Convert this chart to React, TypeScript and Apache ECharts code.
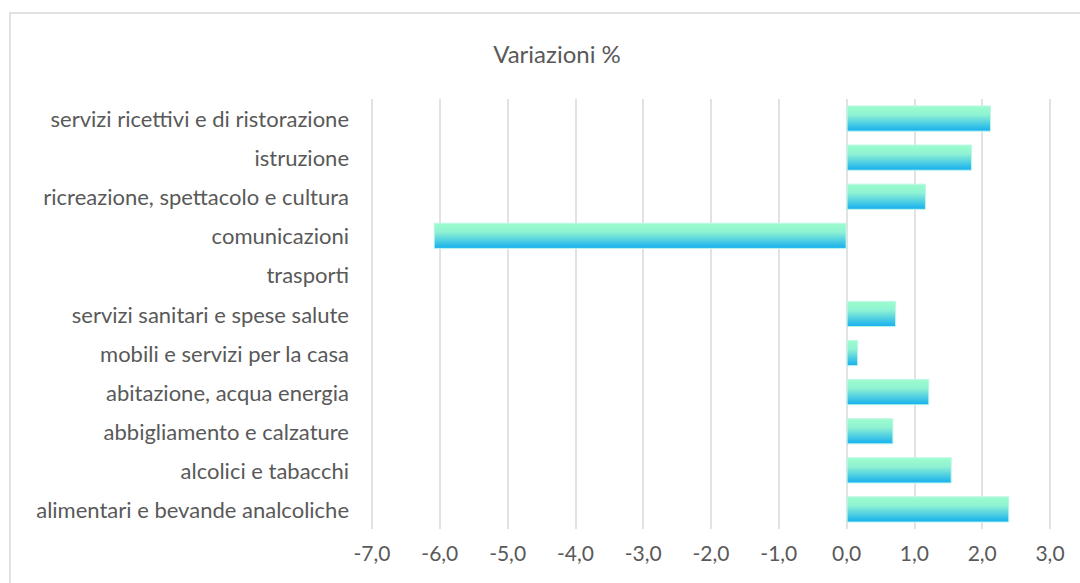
import React, { useEffect, useRef } from "react";
import * as echarts from "echarts";

const categories = [
  "alimentari e bevande analcoliche",
  "alcolici e tabacchi",
  "abbigliamento e calzature",
  "abitazione, acqua energia",
  "mobili e servizi per la casa",
  "servizi sanitari e spese salute",
  "trasporti",
  "comunicazioni",
  "ricreazione, spettacolo e cultura",
  "istruzione",
  "servizi ricettivi e di ristorazione",
];

const values: (number | null)[] = [2.4, 1.55, 0.69, 1.22, 0.17, 0.73, null, -6.09, 1.17, 1.85, 2.13];

const title = "Variazioni %";
const xMin = -7;
const xMax = 3;
const xStep = 1;

export default function App() {
  const ref = useRef<HTMLDivElement>(null);
  useEffect(() => {
    if (!ref.current) return;
    const chart = echarts.init(ref.current, null, { renderer: "svg" });
    const font = "Lato, 'Open Sans', sans-serif";
    chart.setOption({
      animation: false,
      backgroundColor: "#ffffff",
      title: {
        text: title,
        left: 552,
        top: 36,
        textAlign: "center",
        textStyle: { color: "#595959", fontSize: 24, fontWeight: "normal", fontFamily: font },
      },
      graphic: [
        {
          type: "rect",
          shape: { x: 10, y: 13, width: 1200, height: 700 },
          style: { fill: "none", stroke: "#d9d9d9", lineWidth: 1.5 },
          silent: true,
        },
      ],
      grid: { left: 372, right: 30, top: 99, height: 430, containLabel: false },
      xAxis: {
        type: "value",
        min: xMin,
        max: xMax,
        interval: xStep,
        axisLine: { show: false },
        axisTick: { show: false },
        splitLine: { show: true, lineStyle: { color: "#d9d9d9", width: 1.5 } },
        axisLabel: {
          color: "#595959",
          fontSize: 21,
          fontFamily: font,
          margin: 13,
          formatter: (v: number) => v.toFixed(1).replace(".", ","),
        },
      },
      yAxis: {
        type: "category",
        data: categories,
        axisLine: { show: false },
        axisTick: { show: false },
        axisLabel: { color: "#595959", fontSize: 22, fontFamily: font, margin: 23 },
      },
      series: [
        {
          type: "bar",
          data: values,
          barCategoryGap: "33%",
          itemStyle: {
            color: new echarts.graphic.LinearGradient(0, 0, 0, 1, [
              { offset: 0, color: "#9dfdcc" },
              { offset: 0.35, color: "#8ff2d3" },
              { offset: 1, color: "#14aff0" },
            ]),
            borderColor: "#bff6ea",
            borderWidth: 1,
          },
        },
      ],
    });
    return () => chart.dispose();
  }, []);
  return <div ref={ref} style={{ position: "fixed", left: 0, top: 0, width: 1080, height: 583 }} />;
}
